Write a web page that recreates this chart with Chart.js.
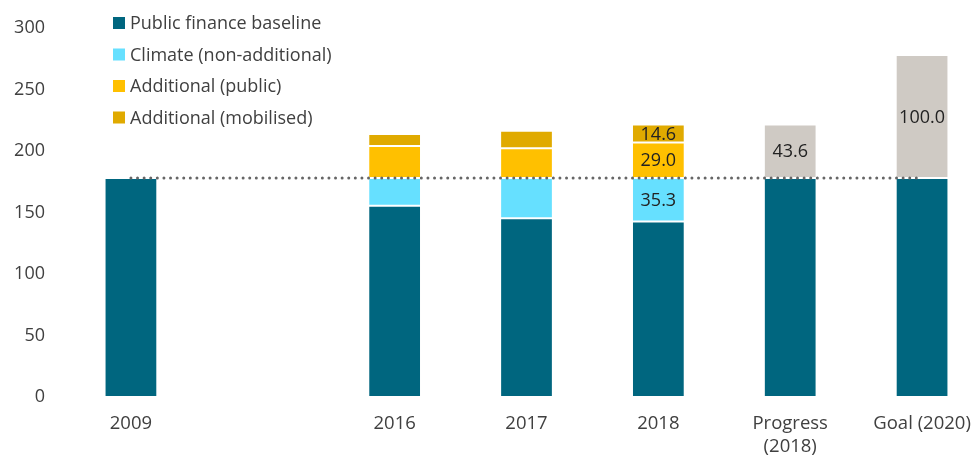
<!DOCTYPE html>
<html>
<head>
<meta charset="utf-8">
<script src="https://cdn.jsdelivr.net/npm/chart.js@4/dist/chart.umd.min.js"></script>
<style>
  html, body { margin: 0; padding: 0; background: #fff; overflow: hidden; }
  #wrap { width: 988px; height: 459px; }
</style>
</head>
<body>
<div id="wrap"><canvas id="chart" width="988" height="459"></canvas></div>
<script>
(() => {
  "use strict";

  const CATEGORIES = ["2009", "", "2016", "2017", "2018", ["Progress", "(2018)"], "Goal (2020)"];
  const BASELINE   = [178, null, 155.5, 145.3, 142.7, 178, 178];
  const CLIMATE    = [null, null, 22.5, 32.7, 35.3, null, null];
  const ADD_PUBLIC = [null, null, 26.1, 24.2, 29.0, null, null];
  const ADD_MOBIL  = [null, null, 9.7, 14.3, 14.6, null, null];
  const GAP        = [null, null, null, null, null, 43.6, 100.0];
  const REF_LINE   = [178, 178, 178, 178, 178, 178, 178];
  const Y_TICKS    = [0, 50, 100, 150, 200, 250, 300];

  // which values get a number written on them: [datasetIndex, categoryIndex]
  const LABELLED = [[1, 4], [2, 4], [3, 4], [4, 5], [4, 6]];

  const FONT = "'Open Sans', 'DejaVu Sans', sans-serif";
  const TEXT = "#404040";

  const bar = (label, data, color) => ({
    type: "bar",
    label,
    data,
    backgroundColor: color,
    borderColor: "rgba(255,255,255,0.6)",
    borderWidth: 1,
    borderSkipped: false,
    stack: "main",
    order: 1,
    barPercentage: 0.4,
    categoryPercentage: 1
  });

  const legendPlugin = {
    id: "insideLegend",
    afterDraw(chart) {
      const ctx = chart.ctx;
      ctx.save();
      ctx.font = `18px ${FONT}`;
      ctx.textBaseline = "middle";
      chart.data.datasets.slice(0, 4).forEach((ds, i) => {
        const y = 23 + i * 31.5;
        ctx.fillStyle = ds.backgroundColor;
        ctx.fillRect(113, y - 6, 12, 12);
        ctx.fillStyle = TEXT;
        ctx.fillText(ds.label, 130, y + 1);
      });
      ctx.restore();
    }
  };

  const valueLabels = {
    id: "valueLabels",
    afterDatasetsDraw(chart) {
      const ctx = chart.ctx;
      ctx.save();
      ctx.font = `18px ${FONT}`;
      ctx.fillStyle = "#222";
      ctx.textAlign = "center";
      ctx.textBaseline = "middle";
      LABELLED.forEach(([di, ci]) => {
        const el = chart.getDatasetMeta(di).data[ci];
        const v = chart.data.datasets[di].data[ci];
        if (!el || v == null) return;
        ctx.fillText(v.toFixed(1), el.x, (el.y + el.base) / 2 + 1);
      });
      ctx.restore();
    }
  };

  new Chart(document.getElementById("chart"), {
    data: {
      labels: CATEGORIES,
      datasets: [
        bar("Public finance baseline", BASELINE, "#00667f"),
        bar("Climate (non-additional)", CLIMATE, "#66e0ff"),
        bar("Additional (public)", ADD_PUBLIC, "#ffc000"),
        bar("Additional (mobilised)", ADD_MOBIL, "#e0aa00"),
        bar("Gap", GAP, "#cfcac4"),
        {
          type: "line",
          label: "2009 level",
          data: REF_LINE,
          stack: "ref",
          order: 0,
          borderColor: "#666666",
          borderWidth: 3,
          borderDash: [0, 6.6],
          borderCapStyle: "round",
          pointRadius: 0,
          fill: false
        }
      ]
    },
    options: {
      responsive: false,
      animation: false,
      layout: { padding: { top: 28, right: 0, left: 0, bottom: 0 } },
      plugins: {
        legend: { display: false },
        tooltip: { enabled: false }
      },
      scales: {
        x: {
          stacked: true,
          grid: { display: false },
          border: { display: false },
          ticks: {
            autoSkip: false,
            maxRotation: 0,
            padding: 8,
            color: TEXT,
            font: { family: FONT, size: 18.5, lineHeight: 1.2 }
          },
          afterFit(scale) { scale.height = 62; }
        },
        y: {
          stacked: true,
          min: 0,
          max: 300,
          grid: { display: false },
          border: { display: false },
          afterBuildTicks(scale) { scale.ticks = Y_TICKS.map(v => ({ value: v })); },
          ticks: {
            padding: 12,
            color: TEXT,
            font: { family: FONT, size: 18 }
          },
          afterFit(scale) { scale.width = 65; }
        }
      }
    },
    plugins: [legendPlugin, valueLabels]
  });
})();
</script>
</body>
</html>
